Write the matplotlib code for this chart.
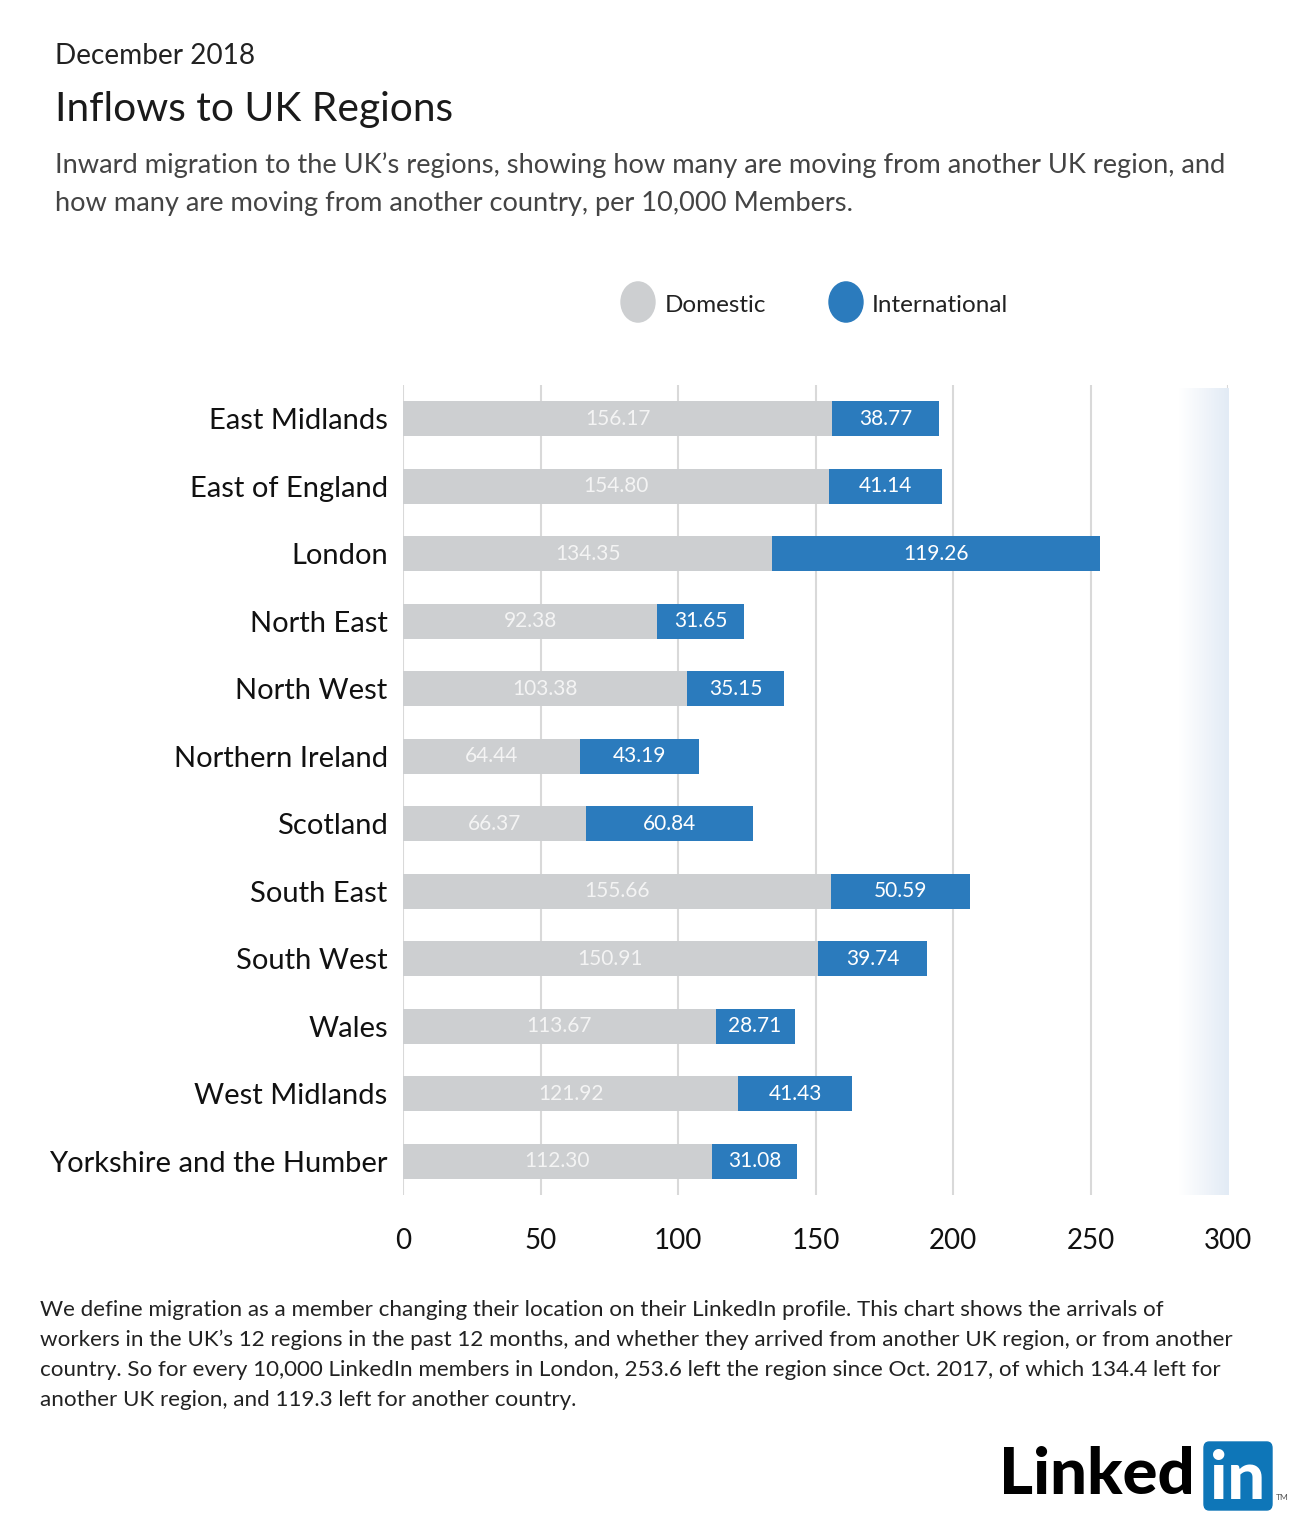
import numpy as np
import matplotlib.pyplot as plt
from matplotlib.patches import Circle, FancyBboxPatch
from matplotlib.colors import LinearSegmentedColormap

plt.rcParams['font.family'] = ['Lato', 'DejaVu Sans']

regions = ["East Midlands", "East of England", "London", "North East", "North West",
           "Northern Ireland", "Scotland", "South East", "South West", "Wales",
           "West Midlands", "Yorkshire and the Humber"]
domestic = [156.17, 154.80, 134.35, 92.38, 103.38, 64.44, 66.37, 155.66, 150.91, 113.67, 121.92, 112.30]
international = [38.77, 41.14, 119.26, 31.65, 35.15, 43.19, 60.84, 50.59, 39.74, 28.71, 41.43, 31.08]
xticks = [0, 50, 100, 150, 200, 250, 300]

grey = "#cdcfd1"
blue = "#2b7bbd"
W, H = 1300, 1534

fig = plt.figure(figsize=(13, 15.34), dpi=100)

def fy(py):
    return 1 - py / H

def fx(px):
    return px / W

# textes du haut
fig.text(fx(55), fy(56), "December 2018", fontsize=20.2, color="#222222", va="center")
fig.text(fx(55), fy(110), "Inflows to UK Regions", fontsize=29.3, color="#1a1a1a", va="center")
fig.text(fx(55), fy(165), "Inward migration to the UK\u2019s regions, showing how many are moving from another UK region, and",
         fontsize=19.6, color="#444444", va="center")
fig.text(fx(55), fy(203), "how many are moving from another country, per 10,000 Members.",
         fontsize=19.6, color="#444444", va="center")

# legende
fig.patches.append(Circle((fx(638), fy(302)), 17 / W, transform=fig.transFigure, color=grey))
fig.patches.append(Circle((fx(846), fy(302)), 17 / W, transform=fig.transFigure, color=blue))
fig.text(fx(665), fy(305), "Domestic", fontsize=17.5, color="#222222", va="center")
fig.text(fx(872), fy(305), "International", fontsize=17.5, color="#222222", va="center")

# graphique
ax = fig.add_axes([fx(403), fy(1195), fx(1228) - fx(403), fy(385) - fy(1195)])
y = np.arange(len(regions))
ax.barh(y, domestic, height=0.52, color=grey, zorder=3)
ax.barh(y, international, left=domestic, height=0.52, color=blue, zorder=3)

for i in range(len(regions)):
    ax.text(domestic[i] / 2, y[i], f"{domestic[i]:.2f}", ha="center", va="center",
            fontsize=15, color="#f4f4f4", zorder=4)
    ax.text(domestic[i] + international[i] / 2, y[i], f"{international[i]:.2f}", ha="center", va="center",
            fontsize=15, color="white", zorder=4)

# degrade bleu a droite
cmap = LinearSegmentedColormap.from_list("fade", ["#ffffff", "#f1f5fa", "#e2ebf5"])
ax.imshow(np.linspace(0, 1, 100).reshape(1, -1), cmap=cmap, aspect="auto",
          extent=[282, 300, 11.6, -0.45], zorder=1)

ax.set_xlim(0, 300)
ax.set_ylim(len(regions) - 0.5, -0.5)
ax.set_xticks(xticks)
ax.set_yticks(y)
ax.set_yticklabels(regions)
ax.tick_params(axis="both", length=0, colors="#111111")
ax.tick_params(axis="y", labelsize=21, pad=11)
ax.tick_params(axis="x", labelsize=20, pad=24)
ax.grid(axis="x", color="#d9d9d9", linewidth=1.5, zorder=0)
ax.set_axisbelow(True)
for s in ax.spines.values():
    s.set_visible(False)

# note
notes = ["We define migration as a member changing their location on their LinkedIn profile. This chart shows the arrivals of",
         "workers in the UK\u2019s 12 regions in the past 12 months, and whether they arrived from another UK region, or from another",
         "country. So for every 10,000 LinkedIn members in London, 253.6 left the region since Oct. 2017, of which 134.4 left for",
         "another UK region, and 119.3 left for another country."]
for k, ligne in enumerate(notes):
    fig.text(fx(40), fy(1310 + 30 * k), ligne, fontsize=16.1, color="#222222", va="center")

# logo
fig.text(fx(1195), fy(1476), "Linked", fontsize=47, fontweight="black", color="black",
         ha="right", va="center")
fig.patches.append(FancyBboxPatch((fx(1204), fy(1510)), fx(1272) - fx(1204), fy(1442) - fy(1510),
                                  boxstyle="round,pad=0,rounding_size=0.004",
                                  transform=fig.transFigure, color="#0e76b8"))
fig.text(fx(1238), fy(1480), "in", fontsize=48, fontweight="black", color="white",
         ha="center", va="center")
fig.text(fx(1282), fy(1498), "TM", fontsize=6, color="#555555", ha="center", va="center")

plt.savefig("out.png", dpi=100)
